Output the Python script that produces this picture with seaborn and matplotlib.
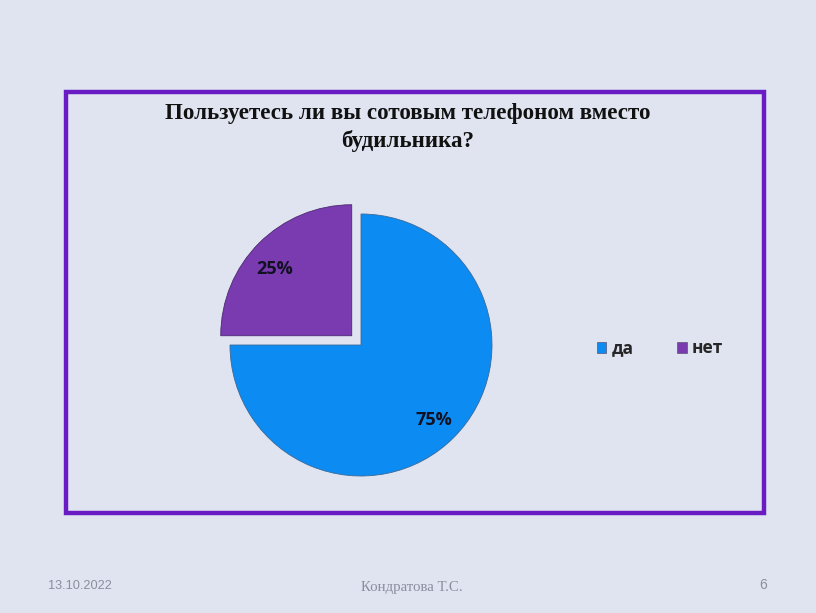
import matplotlib
matplotlib.use("Agg")
import matplotlib.pyplot as plt
import seaborn as sns
from matplotlib.patches import Rectangle

categories = ["да", "нет"]
values = [75, 25]
labels_pct = ["75%", "25%"]
title = "Пользуетесь ли вы сотовым телефоном вместо\nбудильника?"
footer_date = "13.10.2022"
footer_author = "Кондратова Т.С."
footer_page = "6"

sns.set_style("white")
bg = "#E0E4F0"
palette = sns.color_palette(["#0C8BF2", "#7A3AB0"])

W, H = 816, 613
fig = plt.figure(figsize=(W / 100, H / 100), dpi=100, facecolor=bg)

# frame
fig.patches.append(Rectangle((66 / W, 1 - 513 / H), (764 - 66) / W, (513 - 92) / H,
                             transform=fig.transFigure, fill=False,
                             edgecolor="#6A1CC4", linewidth=3.2, zorder=0))

# pie axes
cx, cy, r = 361, 345, 131
lim = 1.2
size = 2 * lim * r
ax = fig.add_axes([(cx - size / 2) / W, 1 - (cy + size / 2) / H, size / W, size / H])
ax.set_facecolor("none")
wedges, _ = ax.pie(values, colors=palette, startangle=90, counterclock=False,
                   explode=[0, 0.1], radius=1.0,
                   wedgeprops=dict(edgecolor="#3A6A9A", linewidth=0.6))
wedges[1].set_edgecolor("#4A2A70")
ax.set_xlim(-lim, lim)
ax.set_ylim(-lim, lim)
ax.set_aspect("equal")
ax.axis("off")

# percentage labels (data coordinates)
ax.text(0.56, -0.57, labels_pct[0], ha="center", va="center",
        fontsize=13, fontweight="bold", family=["Open Sans", "DejaVu Sans"], color="#111122")
ax.text(-0.66, 0.58, labels_pct[1], ha="center", va="center",
        fontsize=13, fontweight="bold", family=["Open Sans", "DejaVu Sans"], color="#111122")

# title
fig.text(408 / W, 1 - 127.5 / H, title, ha="center", va="center", fontsize=16.6,
         fontweight="bold", family=["Liberation Serif", "DejaVu Serif"],
         linespacing=1.33, color="#111111")

# legend
handles = [plt.Rectangle((0, 0), 1, 1, facecolor=palette[i], edgecolor="#555577", linewidth=0.5)
           for i in range(len(categories))]
fig.legend(handles, categories, loc="center left", bbox_to_anchor=(583 / W, 1 - 348.5 / H),
           ncol=2, frameon=False, handlelength=0.55, handleheight=0.55, handletextpad=0.3,
           columnspacing=2.5, borderpad=0.3,
           prop=dict(family=["Open Sans", "DejaVu Sans"], weight="bold", size=12.5))

# footer
fig.text(48 / W, 1 - 586 / H, footer_date, ha="left", va="center", fontsize=9.2,
         color="#8A8E9E", family=["Liberation Sans", "DejaVu Sans"])
fig.text(412 / W, 1 - 587 / H, footer_author, ha="center", va="center", fontsize=10.7,
         color="#8A8E9E", family=["Liberation Serif", "DejaVu Serif"])
fig.text(767 / W, 1 - 585 / H, footer_page, ha="right", va="center", fontsize=10,
         color="#8A8E9E", family=["Liberation Sans", "DejaVu Sans"])

fig.savefig("out.png", dpi=100, facecolor=bg)
